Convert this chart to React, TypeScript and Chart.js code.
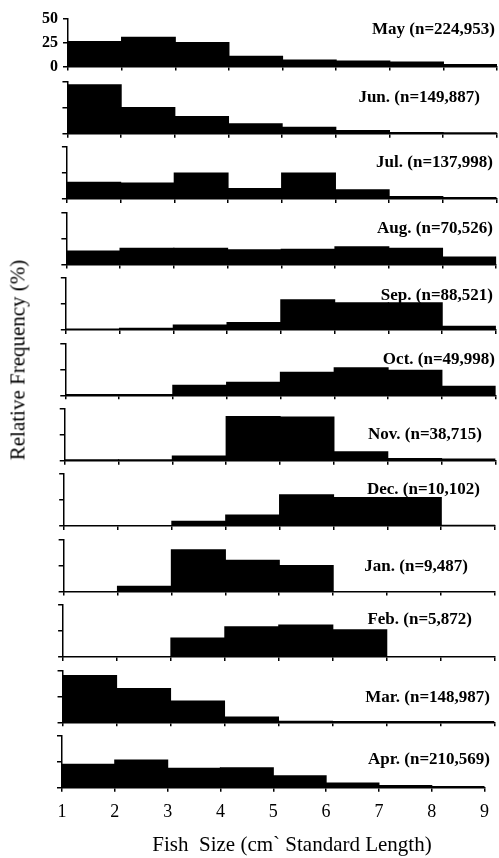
import React, { useEffect, useRef } from "react";
import { Chart, registerables } from "chart.js";

Chart.register(...registerables);

// ---------- data ----------
const binEdges = [1, 2, 3, 4, 5, 6, 7, 8, 9];
const yTickValues = [0, 25, 50];

const monthLabels = [
  "May (n=224,953)",
  "Jun. (n=149,887)",
  "Jul. (n=137,998)",
  "Aug. (n=70,526)",
  "Sep. (n=88,521)",
  "Oct. (n=49,998)",
  "Nov. (n=38,715)",
  "Dec. (n=10,102)",
  "Jan. (n=9,487)",
  "Feb. (n=5,872)",
  "Mar. (n=148,987)",
  "Apr. (n=210,569)",
];

const may = [26, 30.5, 25, 10.5, 6.5, 5.5, 4.5, 2];
const jun = [47, 25, 16.5, 9.5, 6, 3, 1, 0.5];
const jul = [16, 15.5, 25, 10, 25, 9, 2.5, 1.5];
const aug = [13, 15.5, 15.5, 14, 14.5, 17, 15.5, 7];
const sep = [0.5, 1.5, 4.5, 7, 29, 26, 26, 3.5];
const oct = [0.3, 0.3, 9.5, 12.5, 22, 26.5, 24, 8.5];
const nov = [0.2, 0.5, 4.5, 42.5, 42, 8.5, 2, 1.5];
const dec = [0, 0, 4.5, 10.5, 30, 27.5, 27.5, 0.5];
const jan = [0, 5, 40, 30, 25, 0, 0, 0];
const feb = [0, 0, 18, 29, 30.5, 26, 0, 0];
const mar = [45, 32.5, 20.5, 5, 1, 0.3, 0.3, 0.3];
const apr = [22.5, 26.5, 18.5, 19, 11.5, 4.5, 2, 1];

const series = [may, jun, jul, aug, sep, oct, nov, dec, jan, feb, mar, apr];

const xTitle = "Fish  Size (cm` Standard Length)";
const yTitle = "Relative Frequency (%)";

// ---------- layout (not data) ----------
const W = 499;
const H = 858;
const N = 12;
const PANEL_H = 52;
const FIRST_BOTTOM = 68.3;
const STEP = 65.4;
const labelRight = [495, 480, 493, 493, 493, 495, 482, 480, 468, 472, 490, 490];
const labelCenterY = [30, 98, 163, 229, 296, 360, 435, 490, 567, 620, 698, 760];
const X_TITLE_CX = 292;
const X_TITLE_CY = 845;

const SERIF = '"Liberation Serif", "Times New Roman", Times, serif';

function panelGeom(i: number) {
  const bottom = FIRST_BOTTOM + STEP * i;
  const top = bottom - PANEL_H;
  const left = 68 - (6 * i) / (N - 1);
  const right = 497 - (3 * i) / (N - 1);
  return { top, bottom, left, right };
}

const textPlugin = {
  id: "panelText",
  afterDraw(chart: any, _args: any, opts: any) {
    const ctx = chart.ctx as CanvasRenderingContext2D;
    ctx.save();
    ctx.fillStyle = "#000";
    ctx.textBaseline = "middle";
    ctx.font = `bold 17px ${SERIF}`;
    ctx.textAlign = "right";
    ctx.fillText(opts.text, opts.x, opts.y);
    if (opts.xTitle) {
      ctx.font = `21px ${SERIF}`;
      ctx.textAlign = "center";
      ctx.fillText(opts.xTitle, opts.xTitleX, opts.xTitleY);
    }
    ctx.restore();
  },
};

function Panel({ index }: { index: number }) {
  const ref = useRef<HTMLCanvasElement | null>(null);
  const g = panelGeom(index);
  const isFirst = index === 0;
  const isLast = index === N - 1;
  const canvasTop = Math.floor(g.top - 12);
  const padTop = g.top - canvasTop;
  const xAxisH = isLast ? H - g.bottom : 6;
  const canvasH = isLast ? H - canvasTop : Math.ceil(g.bottom + xAxisH + 6 - canvasTop);
  const padBottom = canvasTop + canvasH - g.bottom - xAxisH;

  useEffect(() => {
    if (!ref.current) return;
    const values = series[index];
    const data = values.map((v, k) => ({
      x: (binEdges[k] + binEdges[k + 1]) / 2,
      y: v,
    }));
    const gridCommon = {
      display: true,
      drawOnChartArea: false,
      drawTicks: true,
      color: "#000",
      lineWidth: 1.5,
    };
    const chart = new Chart(ref.current, {
      type: "bar",
      data: {
        datasets: [
          {
            data: data as any,
            backgroundColor: "#000",
            borderWidth: 0,
            barPercentage: 1,
            categoryPercentage: 1,
            inflateAmount: 0.6,
          } as any,
        ],
      },
      options: {
        responsive: false,
        animation: false,
        events: [],
        layout: {
          padding: { top: padTop, bottom: padBottom, left: 0, right: W - g.right },
        },
        plugins: {
          legend: { display: false },
          tooltip: { enabled: false },
          panelText: {
            text: monthLabels[index],
            x: labelRight[index],
            y: labelCenterY[index] - canvasTop,
            xTitle: isLast ? xTitle : null,
            xTitleX: X_TITLE_CX,
            xTitleY: X_TITLE_CY - canvasTop,
          },
        } as any,
        scales: {
          x: {
            type: "linear",
            min: binEdges[0],
            max: binEdges[binEdges.length - 1],
            offset: false,
            afterFit: (s: any) => {
              s.height = xAxisH;
            },
            afterBuildTicks: (s: any) => {
              s.ticks = binEdges.map((v) => ({ value: v }));
            },
            ticks: {
              display: isLast,
              color: "#000",
              padding: 10,
              font: { family: SERIF, size: 18 },
              maxRotation: 0,
            },
            grid: { ...gridCommon, tickLength: 4, offset: false },
            border: { display: true, color: "#000", width: 1.5 },
          },
          y: {
            min: yTickValues[0],
            max: yTickValues[yTickValues.length - 1],
            afterFit: (s: any) => {
              s.width = g.left;
            },
            afterBuildTicks: (s: any) => {
              s.ticks = yTickValues.map((v) => ({ value: v }));
            },
            ticks: {
              display: isFirst,
              color: "#000",
              padding: 5,
              font: { family: SERIF, size: 16, weight: "bold" },
            },
            grid: { ...gridCommon, tickLength: 5 },
            border: { display: true, color: "#000", width: 1.5 },
          },
        },
      } as any,
      plugins: [textPlugin as any],
    });
    return () => chart.destroy();
  }, [index]);

  return (
    <canvas
      ref={ref}
      width={W}
      height={canvasH}
      style={{
        position: "absolute",
        left: 0,
        top: canvasTop,
        width: W,
        height: canvasH,
      }}
    />
  );
}

export default function App() {
  return (
    <div
      style={{
        position: "absolute",
        left: 0,
        top: 0,
        width: W,
        height: H,
        background: "#fff",
        overflow: "hidden",
      }}
    >
      {series.map((_, i) => (
        <Panel key={i} index={i} />
      ))}
      <div
        style={{
          position: "absolute",
          left: 18,
          top: 360,
          transform: "translate(-50%, -50%) rotate(-90deg)",
          whiteSpace: "nowrap",
          fontFamily: SERIF,
          fontSize: 21,
          color: "#000",
          lineHeight: 1,
        }}
      >
        {yTitle}
      </div>
    </div>
  );
}
